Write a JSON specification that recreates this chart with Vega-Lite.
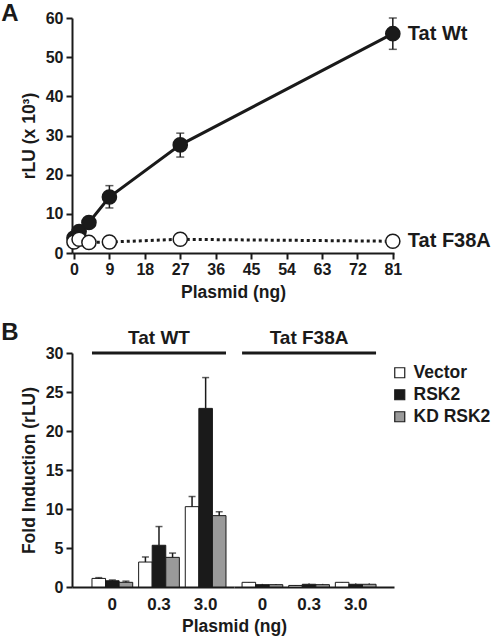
{
  "$schema": "https://vega.github.io/schema/vega-lite/v6.json",
  "background": "white",
  "padding": {"left": 1, "top": 2, "right": 5, "bottom": 5},
  "config": {
    "font": "Liberation Sans",
    "view": {"stroke": null},
    "axis": {
      "grid": false,
      "domainColor": "#1a1a1a",
      "domainWidth": 2,
      "tickColor": "#1a1a1a",
      "tickWidth": 2,
      "tickSize": 6,
      "labelFontSize": 16,
      "labelFontWeight": "bold",
      "labelColor": "#1a1a1a",
      "titleFontSize": 17.5,
      "titleFontWeight": "bold",
      "titleColor": "#1a1a1a"
    },
    "axisY": {"labelOverlap": false},
    "title": {"fontSize": 24, "fontWeight": "bold", "color": "#1a1a1a"}
  },
  "datasets": {
    "lines": [
      {"construct": "Tat Wt", "dose": 0, "value": 3.8},
      {"construct": "Tat Wt", "dose": 1.3, "value": 5.5},
      {"construct": "Tat Wt", "dose": 3.8, "value": 7.8},
      {"construct": "Tat Wt", "dose": 9, "value": 14.3, "lo": 11.5, "hi": 17.2},
      {"construct": "Tat Wt", "dose": 27, "value": 27.6, "lo": 24.5, "hi": 30.6},
      {"construct": "Tat Wt", "dose": 81, "value": 56, "lo": 52, "hi": 60},
      {"construct": "Tat F38A", "dose": 0, "value": 2.8},
      {"construct": "Tat F38A", "dose": 1.3, "value": 3.5},
      {"construct": "Tat F38A", "dose": 3.8, "value": 2.7},
      {"construct": "Tat F38A", "dose": 9, "value": 2.8},
      {"construct": "Tat F38A", "dose": 27, "value": 3.5},
      {"construct": "Tat F38A", "dose": 81, "value": 3.0}
    ],
    "bars": [
      {"construct": "Tat WT", "dose": "0", "treatment": "Vector", "value": 1.1, "hi": 1.2},
      {"construct": "Tat WT", "dose": "0", "treatment": "RSK2", "value": 0.8, "hi": 0.9},
      {"construct": "Tat WT", "dose": "0", "treatment": "KD RSK2", "value": 0.6, "hi": 0.75},
      {"construct": "Tat WT", "dose": "0.3", "treatment": "Vector", "value": 3.2, "hi": 3.85},
      {"construct": "Tat WT", "dose": "0.3", "treatment": "RSK2", "value": 5.35, "hi": 7.75},
      {"construct": "Tat WT", "dose": "0.3", "treatment": "KD RSK2", "value": 3.8, "hi": 4.35},
      {"construct": "Tat WT", "dose": "3.0", "treatment": "Vector", "value": 10.3, "hi": 11.6},
      {"construct": "Tat WT", "dose": "3.0", "treatment": "RSK2", "value": 22.9, "hi": 26.85},
      {"construct": "Tat WT", "dose": "3.0", "treatment": "KD RSK2", "value": 9.15, "hi": 9.65},
      {"construct": "Tat F38A", "dose": "0", "treatment": "Vector", "value": 0.6, "hi": 0.65},
      {"construct": "Tat F38A", "dose": "0", "treatment": "RSK2", "value": 0.3, "hi": 0.4},
      {"construct": "Tat F38A", "dose": "0", "treatment": "KD RSK2", "value": 0.3, "hi": 0.4},
      {"construct": "Tat F38A", "dose": "0.3", "treatment": "Vector", "value": 0.2, "hi": 0.25},
      {"construct": "Tat F38A", "dose": "0.3", "treatment": "RSK2", "value": 0.35, "hi": 0.45},
      {"construct": "Tat F38A", "dose": "0.3", "treatment": "KD RSK2", "value": 0.3, "hi": 0.4},
      {"construct": "Tat F38A", "dose": "3.0", "treatment": "Vector", "value": 0.6, "hi": 0.65},
      {"construct": "Tat F38A", "dose": "3.0", "treatment": "RSK2", "value": 0.35, "hi": 0.45},
      {"construct": "Tat F38A", "dose": "3.0", "treatment": "KD RSK2", "value": 0.35, "hi": 0.45}
    ],
    "headers": [
      {"construct": "Tat WT", "first": "0", "mid": "0.3", "last": "3.0", "top": 30},
      {"construct": "Tat F38A", "first": "0", "mid": "0.3", "last": "3.0", "top": 30}
    ]
  },
  "spacing": 20,
  "vconcat": [
    {
      "width": 322,
      "height": 235,
      "title": {"text": "A", "anchor": "start", "frame": "bounds", "offset": -16, "dx": -19},
      "data": {"name": "lines"},
      "encoding": {
        "x": {
          "field": "dose", "type": "quantitative",
          "scale": {"domain": [-0.5, 81.3], "nice": false, "zero": false},
          "axis": {"values": [0, 9, 18, 27, 36, 45, 54, 63, 72, 81], "title": "Plasmid (ng)", "labelPadding": 2, "titlePadding": 6}
        },
        "y": {
          "field": "value", "type": "quantitative",
          "scale": {"domain": [0, 60], "nice": false},
          "axis": {"values": [0, 10, 20, 30, 40, 50, 60], "title": "rLU (x 10³)", "titlePadding": 7, "labelPadding": 3}
        }
      },
      "layer": [
        {
          "transform": [{"filter": "datum.construct === 'Tat Wt'"}],
          "mark": {"type": "line", "color": "#1a1a1a", "strokeWidth": 3}
        },
        {
          "transform": [{"filter": "datum.construct === 'Tat F38A'"}],
          "mark": {"type": "line", "color": "#1a1a1a", "strokeWidth": 3, "strokeDash": [3, 3]}
        },
        {
          "transform": [{"filter": "isValid(datum.hi)"}],
          "mark": {"type": "rule", "color": "#1a1a1a", "strokeWidth": 1.5},
          "encoding": {"y": {"field": "lo", "type": "quantitative"}, "y2": {"field": "hi"}}
        },
        {
          "transform": [{"filter": "isValid(datum.hi)"}],
          "mark": {"type": "tick", "orient": "horizontal", "size": 8, "thickness": 1.5, "color": "#1a1a1a"},
          "encoding": {"y": {"field": "hi", "type": "quantitative"}}
        },
        {
          "transform": [{"filter": "isValid(datum.lo)"}],
          "mark": {"type": "tick", "orient": "horizontal", "size": 8, "thickness": 1.5, "color": "#1a1a1a"},
          "encoding": {"y": {"field": "lo", "type": "quantitative"}}
        },
        {
          "transform": [{"filter": "datum.construct === 'Tat Wt'"}],
          "mark": {"type": "circle", "size": 200, "fill": "#1a1a1a", "stroke": "#1a1a1a", "strokeWidth": 1.5, "opacity": 1}
        },
        {
          "transform": [{"filter": "datum.construct === 'Tat F38A'"}],
          "mark": {"type": "circle", "size": 200, "fill": "white", "stroke": "#1a1a1a", "strokeWidth": 1.5, "opacity": 1}
        },
        {
          "transform": [{"filter": "datum.dose === 81"}],
          "mark": {"type": "text", "align": "left", "baseline": "middle", "dx": 15, "fontSize": 20, "fontWeight": "bold", "color": "#1a1a1a"},
          "encoding": {"text": {"field": "construct"}}
        }
      ]
    },
    {
      "spacing": 0,
      "bounds": "flush",
      "resolve": {"scale": {"fill": "independent"}},
      "hconcat": [
        {
          "width": 162,
          "height": 234,
          "title": {"text": "B", "anchor": "start", "frame": "bounds", "offset": -16, "dx": -19},
          "encoding": {
            "y": {
              "field": "value", "type": "quantitative",
              "scale": {"domain": [0, 30], "nice": false},
              "axis": {"values": [0, 5, 10, 15, 20, 25, 30], "title": "Fold Induction (rLU)", "titlePadding": 7, "labelPadding": 3}
            }
          },
          "layer": [
            {
              "data": {"name": "bars"},
              "transform": [{"filter": "datum.construct === 'Tat WT'"}],
              "mark": {"type": "bar", "stroke": "#1a1a1a", "strokeWidth": 1},
              "encoding": {
                "x": {
                  "field": "dose", "type": "nominal",
                  "scale": {"domain": ["0", "0.3", "3.0"], "paddingInner": 0.127, "paddingOuter": 0.3, "align": 0.714},
                  "axis": {"ticks": false, "labelPadding": 9, "labelAngle": 0, "labelFontSize": 17, "title": "Plasmid (ng)", "titleX": 162, "titleAlign": "center", "titlePadding": 5}
                },
                "xOffset": {"field": "treatment", "type": "nominal", "scale": {"domain": ["Vector", "RSK2", "KD RSK2"]}},
                "fill": {"field": "treatment", "type": "nominal", "scale": {"domain": ["Vector", "RSK2", "KD RSK2"], "range": ["#ffffff", "#1a1a1a", "#9a9a9a"]}, "legend": null}
              }
            },
            {
              "data": {"name": "bars"},
              "transform": [{"filter": "datum.construct === 'Tat WT'"}],
              "mark": {"type": "rule", "color": "#1a1a1a", "strokeWidth": 1.5},
              "encoding": {
                "x": {"field": "dose", "type": "nominal"},
                "xOffset": {"field": "treatment", "type": "nominal"},
                "y2": {"field": "hi"}
              }
            },
            {
              "data": {"name": "bars"},
              "transform": [{"filter": "datum.construct === 'Tat WT'"}],
              "mark": {"type": "tick", "orient": "horizontal", "size": 7, "thickness": 1.5, "color": "#1a1a1a"},
              "encoding": {
                "x": {"field": "dose", "type": "nominal"},
                "xOffset": {"field": "treatment", "type": "nominal"},
                "y": {"field": "hi", "type": "quantitative"}
              }
            },
            {
              "data": {"name": "headers"},
              "transform": [{"filter": "datum.construct === 'Tat WT'"}],
              "mark": {"type": "rule", "color": "#1a1a1a", "strokeWidth": 3},
              "encoding": {
                "x": {"field": "first", "type": "nominal", "bandPosition": 0},
                "x2": {"field": "last", "bandPosition": 1},
                "y": {"field": "top", "type": "quantitative"}
              }
            },
            {
              "data": {"name": "headers"},
              "transform": [{"filter": "datum.construct === 'Tat WT'"}],
              "mark": {"type": "text", "dy": -15, "fontSize": 19, "fontWeight": "bold", "color": "#1a1a1a", "baseline": "middle"},
              "encoding": {
                "x": {"field": "mid", "type": "nominal"},
                "y": {"field": "top", "type": "quantitative"},
                "text": {"field": "construct"}
              }
            }
          ]
        },
        {
          "width": 160,
          "height": 234,
          "encoding": {
            "y": {
              "field": "value", "type": "quantitative",
              "scale": {"domain": [0, 30], "nice": false},
              "axis": null
            }
          },
          "layer": [
            {
              "data": {"name": "bars"},
              "transform": [{"filter": "datum.construct === 'Tat F38A'"}],
              "mark": {"type": "bar", "stroke": "#1a1a1a", "strokeWidth": 1},
              "encoding": {
                "x": {
                  "field": "dose", "type": "nominal",
                  "scale": {"domain": ["0", "0.3", "3.0"], "paddingInner": 0.127, "paddingOuter": 0.279, "align": 0.31},
                  "axis": {"ticks": false, "labelPadding": 9, "labelAngle": 0, "labelFontSize": 17, "title": null}
                },
                "xOffset": {"field": "treatment", "type": "nominal", "scale": {"domain": ["Vector", "RSK2", "KD RSK2"]}},
                "fill": {
                  "field": "treatment", "type": "nominal",
                  "scale": {"domain": ["Vector", "RSK2", "KD RSK2"], "range": ["#ffffff", "#1a1a1a", "#9a9a9a"]},
                  "legend": {"orient": "none", "legendX": 157, "legendY": 11, "title": null, "padding": 0, "symbolType": "square", "symbolSize": 100, "symbolStrokeColor": "#1a1a1a", "symbolStrokeWidth": 1.2, "labelFontSize": 17.5, "labelFontWeight": "bold", "labelColor": "#1a1a1a", "rowPadding": 3, "labelOffset": 5}
                }
              }
            },
            {
              "data": {"name": "bars"},
              "transform": [{"filter": "datum.construct === 'Tat F38A'"}],
              "mark": {"type": "rule", "color": "#1a1a1a", "strokeWidth": 1.5},
              "encoding": {
                "x": {"field": "dose", "type": "nominal"},
                "xOffset": {"field": "treatment", "type": "nominal"},
                "y2": {"field": "hi"}
              }
            },
            {
              "data": {"name": "headers"},
              "transform": [{"filter": "datum.construct === 'Tat F38A'"}],
              "mark": {"type": "rule", "color": "#1a1a1a", "strokeWidth": 3},
              "encoding": {
                "x": {"field": "first", "type": "nominal", "bandPosition": 0},
                "x2": {"field": "last", "bandPosition": 1},
                "y": {"field": "top", "type": "quantitative"}
              }
            },
            {
              "data": {"name": "headers"},
              "transform": [{"filter": "datum.construct === 'Tat F38A'"}],
              "mark": {"type": "text", "dy": -15, "fontSize": 19, "fontWeight": "bold", "color": "#1a1a1a", "baseline": "middle"},
              "encoding": {
                "x": {"field": "mid", "type": "nominal"},
                "y": {"field": "top", "type": "quantitative"},
                "text": {"field": "construct"}
              }
            }
          ]
        }
      ]
    }
  ]
}
